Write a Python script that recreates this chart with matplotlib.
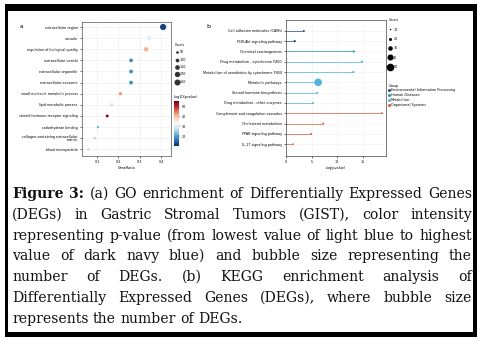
import numpy as np
import matplotlib
matplotlib.use("Agg")
import matplotlib.pyplot as plt
from matplotlib.patches import Rectangle
from matplotlib.lines import Line2D
from matplotlib.colors import Normalize

W, H = 481, 342

# panel a: GO enrichment
go_terms = ["extracellular region", "vacuole", "regulation of biological quality",
            "extracellular vesicle", "extracellular organelle", "extracellular exosome",
            "small molecule metabolic process", "lipid metabolic process",
            "steroid hormone receptor signaling", "carbohydrate binding",
            "collagen-containing extracellular\nmatrix", "blood microparticle"]
go_ratio = [0.41, 0.345, 0.33, 0.26, 0.26, 0.26, 0.21, 0.17, 0.148, 0.105, 0.09, 0.06]
go_count = [270, 160, 140, 100, 100, 100, 80, 70, 60, 40, 40, 30]
go_logp = [12, 31, 41, 19, 19, 19, 43, 38, 54, 22, 26, 26]
go_count_ticks = [50, 100, 150, 200, 250]
go_cbar_ticks = [20, 30, 40, 50]

# panel b: KEGG enrichment
kegg_terms = ["Cell adhesion molecules (CAMs)", "PI3K-Akt signaling pathway",
              "Chemical carcinogenesis", "Drug metabolism - cytochrome P450",
              "Metabolism of xenobiotics by cytochrome P450", "Metabolic pathways",
              "Steroid hormone biosynthesis", "Drug metabolism - other enzymes",
              "Complement and coagulation cascades", "Cholesterol metabolism",
              "PPAR signaling pathway", "IL-17 signaling pathway"]
kegg_logp = [3.5, 1.7, 13.3, 14.9, 13.2, 6.3, 6.1, 5.3, 18.8, 7.3, 4.9, 1.4]
kegg_count = [12, 15, 14, 14, 14, 50, 12, 13, 13, 13, 13, 11]
kegg_group = [0, 0, 1, 2, 2, 2, 2, 2, 3, 3, 3, 3]
group_names = ["Environmental Information Processing", "Human Diseases",
               "Metabolism", "Organismal Systems"]
group_colors = ["#2b4d8c", "#1f9e89", "#56b4d9", "#e2603a"]
kegg_count_ticks = [10, 20, 30, 40, 50]

caption = [
    [("Figure 3:", "bold"), "(a) GO enrichment of Differentially Expressed Genes"],
    ["(DEGs) in Gastric Stromal Tumors (GIST), color intensity"],
    ["representing p-value (from lowest value of light blue to highest"],
    ["value of dark navy blue) and bubble size representing the"],
    ["number of DEGs. (b) KEGG enrichment analysis of"],
    ["Differentially Expressed Genes (DEGs), where bubble size"],
    ["represents the number of DEGs."],
]

fig = plt.figure(figsize=(W / 100, H / 100), dpi=100)

# frame
fig.add_artist(Rectangle((5 / W, 1 - 337 / H), 472 / W, 333 / H, transform=fig.transFigure,
                         facecolor="black", edgecolor="none", zorder=0))
fig.add_artist(Rectangle((8 / W, 1 - 332 / H), 465 / W, 321 / H, transform=fig.transFigure,
                         facecolor="white", edgecolor="none", zorder=0))


def px_axes(l, t, r, b):
    return fig.add_axes([l / W, 1 - b / H, (r - l) / W, (b - t) / H])


tiny = 2.4

# ---- panel a
axa = px_axes(82, 22, 171, 156)
cmap = plt.get_cmap("RdBu_r")
norm = Normalize(vmin=10, vmax=56)
ya = np.arange(len(go_terms))
sa = [c * 0.075 for c in go_count]
axa.scatter(go_ratio, ya, s=sa, c=go_logp, cmap=cmap, norm=norm, zorder=3, linewidths=0)
axa.set_yticks(ya)
axa.set_yticklabels(go_terms, fontsize=tiny, linespacing=0.9)
axa.set_ylim(len(go_terms) - 0.4, -0.45)
axa.set_xlim(0.03, 0.447)
axa.set_xticks([0.1, 0.2, 0.3, 0.4])
axa.tick_params(axis="x", labelsize=tiny, length=1.5, width=0.4, pad=1.5)
axa.tick_params(axis="y", length=1.5, width=0.4, pad=1.5)
axa.set_xlabel("GeneRatio", fontsize=tiny, labelpad=1.5)
axa.grid(True, color="#ebebeb", lw=0.4)
axa.set_axisbelow(True)
for sp in axa.spines.values():
    sp.set_color("#555555")
    sp.set_linewidth(0.5)
fig.text(21 / W, 1 - 27 / H, "a", fontsize=4, ha="center", va="center")

h_a = [Line2D([], [], ls="", marker="o", color="#333333", markeredgewidth=0,
              markersize=np.sqrt(v * 0.075)) for v in go_count_ticks]
leg_a = axa.legend(h_a, [str(v) for v in go_count_ticks], title="Count", fontsize=tiny,
                   title_fontsize=tiny, loc="upper left", bbox_to_anchor=(1.02, 0.86),
                   frameon=False, labelspacing=1.0, handletextpad=0.3, handlelength=1.0,
                   borderpad=0.2, alignment="left")

cax = px_axes(174, 101, 179, 146)
cb = fig.colorbar(plt.cm.ScalarMappable(norm=norm, cmap=cmap), cax=cax, ticks=go_cbar_ticks)
cb.outline.set_visible(False)
cax.tick_params(labelsize=tiny, length=1, width=0.3, pad=1)
fig.text(174 / W, 1 - 97 / H, "-log10(pvalue)", fontsize=tiny, ha="left", va="center")

# ---- panel b
axb = px_axes(286, 20, 386, 156)
yb = np.arange(len(kegg_terms))
cols = [group_colors[g] for g in kegg_group]
axb.hlines(yb, 0, kegg_logp, colors=cols, lw=0.7, alpha=0.75, zorder=2)
axb.scatter(kegg_logp, yb, s=[c ** 2 * 0.012 for c in kegg_count], c=cols, zorder=3,
            linewidths=0)
axb.set_yticks(yb)
axb.set_yticklabels(kegg_terms, fontsize=tiny)
axb.set_ylim(len(kegg_terms) - 1 + 1.15, -1.05)
axb.set_xlim(0, 19.6)
axb.set_xticks([0, 5, 10, 15])
axb.tick_params(axis="x", labelsize=tiny, length=1.5, width=0.4, pad=1.5)
axb.tick_params(axis="y", length=1.5, width=0.4, pad=1.5)
axb.set_xlabel("-log(pvalue)", fontsize=tiny, labelpad=1.5)
axb.grid(True, color="#f0f0f0", lw=0.4)
axb.set_axisbelow(True)
for sp in axb.spines.values():
    sp.set_color("#444444")
    sp.set_linewidth(0.5)
fig.text(208 / W, 1 - 27 / H, "b", fontsize=4.5, ha="center", va="center")

h_b = [Line2D([], [], ls="", marker="o", color="black", markeredgewidth=0,
              markersize=np.sqrt(v ** 2 * 0.012)) for v in kegg_count_ticks]
leg_b1 = axb.legend(h_b, [str(v) for v in kegg_count_ticks], title="Count", fontsize=tiny,
                    title_fontsize=tiny, loc="upper left", bbox_to_anchor=(1.0, 1.03),
                    frameon=False, labelspacing=1.6, handletextpad=0.5, handlelength=1.0,
                    borderpad=0.2, alignment="left")
axb.add_artist(leg_b1)
h_g = [Line2D([], [], ls="", marker="o", color=c, markeredgewidth=0, markersize=2.2)
       for c in group_colors]
axb.legend(h_g, group_names, title="Group", fontsize=tiny, title_fontsize=tiny,
           loc="upper left", bbox_to_anchor=(1.0, 0.55), frameon=False, labelspacing=0.25,
           handletextpad=0.2, handlelength=0.6, borderpad=0.2, alignment="left")

# ---- caption, justified
fig.canvas.draw()
rend = fig.canvas.get_renderer()
serif = "DejaVu Serif"


def text_w(s, size, weight="normal"):
    t = fig.text(0, 0, s, fontsize=size, family=serif, weight=weight)
    w = t.get_window_extent(rend).width
    t.remove()
    return w


fs = 10 * 231 / text_w(caption[-1][0], 10)
left, right = 12, 472
baselines = [198, 219, 240, 260, 281, 302, 323]
for i, parts in enumerate(caption):
    words = []
    for p in parts:
        if isinstance(p, tuple):
            words += [(w, p[1]) for w in p[0].split()]
        else:
            words += [(w, "normal") for w in p.split()]
    widths = [text_w(w, fs, wt) for w, wt in words]
    if i < len(caption) - 1:
        gap = (right - left - sum(widths)) / (len(words) - 1)
    else:
        gap = text_w("a b", fs) - text_w("ab", fs)
    x = left
    for (w, wt), ww in zip(words, widths):
        fig.text(x / W, 1 - baselines[i] / H, w, fontsize=fs, family=serif, weight=wt,
                 ha="left", va="baseline", color="#111111")
        x += ww + gap

fig.savefig("out.png", dpi=100)
